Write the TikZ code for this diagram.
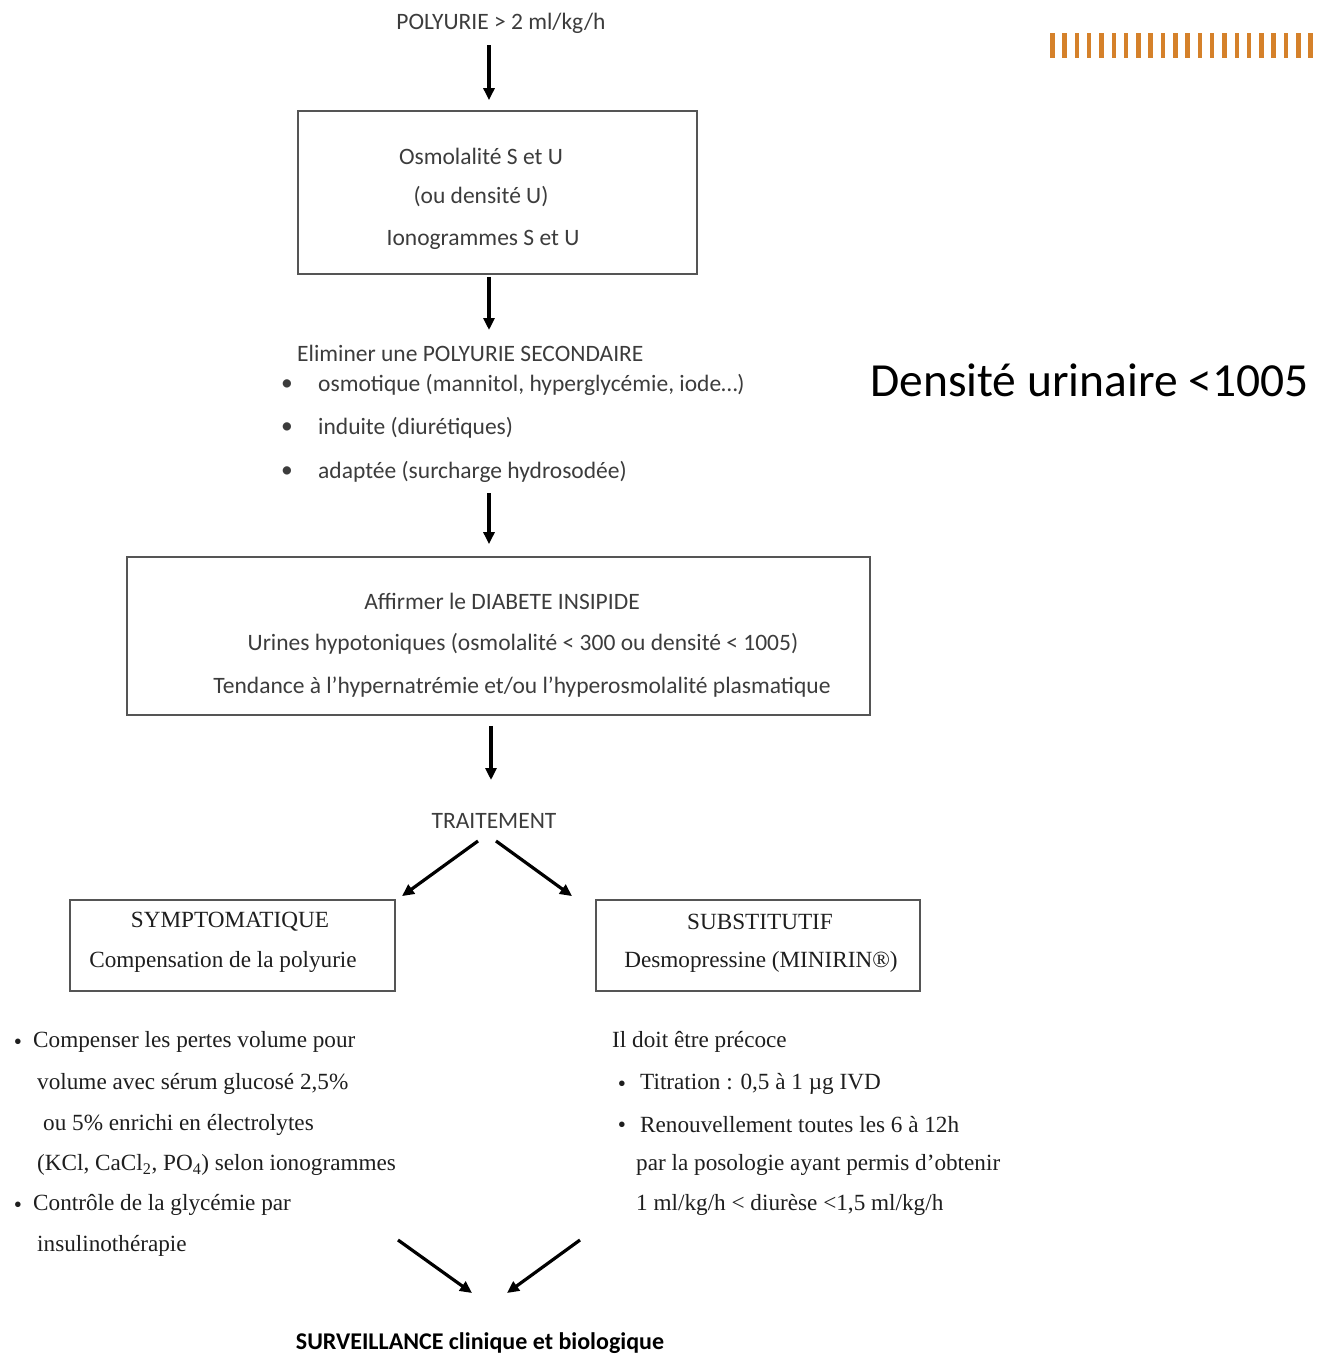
\documentclass[tikz,border=0pt]{standalone}
\usepackage{fontspec}
\setmainfont{Carlito}
\newfontfamily\tms{Liberation Serif}
\usetikzlibrary{arrows.meta,calc}
\definecolor{txt}{HTML}{3C3C3C}
\definecolor{ttxt}{HTML}{1E1E1E}
\definecolor{boxc}{HTML}{555555}
\definecolor{stripe}{HTML}{D5812A}
\begin{document}
\begin{tikzpicture}[x=1pt,y=-1pt,
  cal/.style={inner sep=0pt,text=txt,font=\fontsize{23.5}{28}\selectfont},
  tim/.style={inner sep=0pt,text=ttxt,font=\tms\fontsize{23.2}{27}\selectfont},
  frame/.style={draw=boxc,line width=1.8pt,inner sep=0pt},
  arr/.style={draw=black,line width=3.2pt,-{Triangle[width=11pt,length=12pt]}}]
\useasboundingbox (0,0) rectangle (1317,1357);
% stripes
\foreach \i in {0,...,21}{\fill[stripe] (1050+\i*12.3,33) rectangle ++(4.5,25);}
% top
\node[cal] (poly) at (501,23) {POLYURIE > 2 ml/kg/h};
\node[frame,minimum width=399pt,minimum height=163pt] (b1) at (497.5,192.5) {};
\node[cal] (b1a) at (481,156) {Osmolalité S et U};
\node[cal] (b1b) at (481,197) {(ou densité U)};
\node[cal] (b1c) at (483,240) {Ionogrammes S et U};
\draw[arr] ($(poly)+(-12,22)$) -- ($(b1.north)+(-8.5,-10)$);
% eliminer
\node[cal,anchor=west] (el) at (297,353) {Eliminer une POLYURIE SECONDAIRE};
\node[cal] (d1) at (287,385) {•};
\node[cal] (d2) at (287,428) {•};
\node[cal] (d3) at (287,472) {•};
\node[cal,anchor=west] (e1) at (318,385) {osmotique (mannitol, hyperglycémie, iode…)};
\node[cal,anchor=west] (e2) at (318,428) {induite (diurétiques)};
\node[cal,anchor=west] (e3) at (318,472) {adaptée (surcharge hydrosodée)};
\draw[arr] ($(b1.south)+(-8.5,2)$) -- ($(el.west)+(192,-23)$);
% box 2
\node[frame,minimum width=743pt,minimum height=158pt] (b2) at (498.5,636) {};
\node[cal] (b2a) at (502,601) {Affirmer le DIABETE INSIPIDE};
\node[cal] (b2b) at (523,644) {Urines hypotoniques (osmolalité < 300 ou densité < 1005)};
\node[cal] (b2c) at (522,687) {Tendance à l’hypernatrémie et/ou l’hyperosmolalité plasmatique};
\draw[arr] ($(e3.west)+(171,21)$) -- ($(b2.north)+(-9.5,-12)$);
% Densite
\node[inner sep=0pt,anchor=west,text=black,font=\fontsize{47.5}{56}\selectfont] (dens) at (870,380) {Densité urinaire <1005};
% traitement
\node[cal] (trt) at (494,821) {TRAITEMENT};
\draw[arr] ($(b2.south)+(-7.5,10)$) -- ($(trt)+(-3,-41)$);
\node[frame,minimum width=325pt,minimum height=91pt] (b3) at (232.5,945.5) {};
\node[tim] (b3a) at (230,922) {SYMPTOMATIQUE};
\node[tim] (b3b) at (223,962) {Compensation de la polyurie};
\node[frame,minimum width=324pt,minimum height=91pt] (b4) at (758,945.5) {};
\node[tim] (b4a) at (760,922) {SUBSTITUTIF};
\node[tim] (b4b) at (761,962) {Desmopressine (MINIRIN®)};
\draw[arr] ($(trt)+(-16,20)$) -- ($(b3.north)+(169.5,-3)$);
\draw[arr] ($(trt)+(2,20)$) -- ($(b4.north)+(-186,-3)$);
% left list
\node[tim] (l0) at (18,1044) {•};
\node[tim,anchor=west] (l1) at (33,1042) {Compenser les pertes volume pour};
\node[tim,anchor=west] (l2) at (37,1084) {volume avec sérum glucosé 2,5\%};
\node[tim,anchor=west] (l3) at (43,1125) {ou 5\% enrichi en électrolytes};
\node[tim,anchor=west] (l4) at (37,1165) {(KCl, CaCl\textsubscript{2}, PO\textsubscript{4}) selon ionogrammes};
\node[tim] (l5) at (18,1207) {•};
\node[tim,anchor=west] (l6) at (33,1205) {Contrôle de la glycémie par};
\node[tim,anchor=west] (l7) at (37,1246) {insulinothérapie};
% right list
\node[tim,anchor=west] (r1) at (612,1042) {Il doit être précoce};
\node[tim] (r0) at (622,1086) {•};
\node[tim,anchor=west] (r2) at (640,1084) {Titration : 0,5 à 1 µg IVD};
\node[tim] (r00) at (622,1127) {•};
\node[tim,anchor=west] (r3) at (640,1125) {Renouvellement toutes les 6 à 12h};
\node[tim,anchor=west] (r4) at (636,1165) {par la posologie ayant permis d’obtenir};
\node[tim,anchor=west] (r5) at (636,1205) {1 ml/kg/h < diurèse <1,5 ml/kg/h};
% surveillance
\node[inner sep=0pt,text=black,font=\bfseries\fontsize{24}{28}\selectfont] (surv) at (480,1343) {SURVEILLANCE clinique et biologique};
\draw[arr] ($(surv)+(-82,-103)$) -- ($(surv)+(-8,-50)$);
\draw[arr] ($(surv)+(100,-103)$) -- ($(surv)+(27,-50)$);
\end{tikzpicture}
\end{document}
